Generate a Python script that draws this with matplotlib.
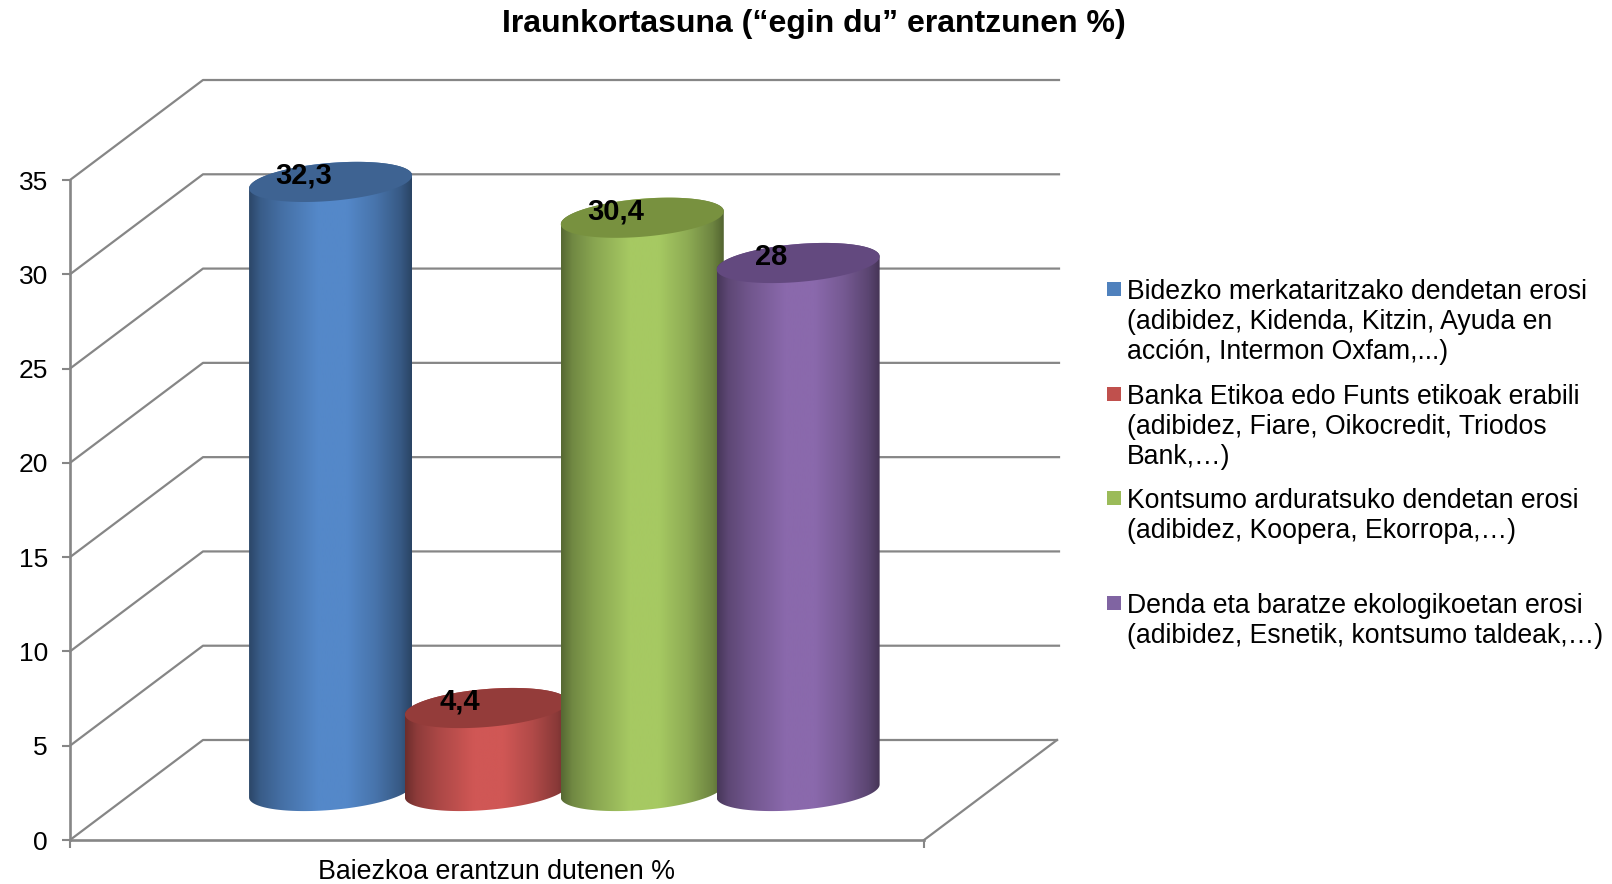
import numpy as np
import matplotlib
matplotlib.use('Agg')
import matplotlib.pyplot as plt
from matplotlib.colors import to_rgb
from matplotlib.patches import Polygon, Rectangle

plt.rcParams['font.family'] = ['Liberation Sans', 'DejaVu Sans']

title = 'Iraunkortasuna (“egin du” erantzunen %)'
xlabel = 'Baiezkoa erantzun dutenen %'
yticks = [0, 5, 10, 15, 20, 25, 30, 35]
values = [32.3, 4.4, 30.4, 28]
value_labels = ['32,3', '4,4', '30,4', '28']
light_colors = ['#5488C9', '#D05755', '#A6C962', '#8A69AC']
top_colors = ['#3E6392', '#943C3A', '#78913F', '#63497F']
legend_colors = ['#4F81BD', '#C0504D', '#9BBB59', '#8064A2']
legend_labels = [
    'Bidezko merkataritzako dendetan erosi\n(adibidez, Kidenda, Kitzin, Ayuda en\nacción, Intermon Oxfam,...)',
    'Banka Etikoa edo Funts etikoak erabili\n(adibidez, Fiare, Oikocredit, Triodos\nBank,…)',
    'Kontsumo arduratsuko dendetan erosi\n(adibidez, Koopera, Ekorropa,…)',
    'Denda eta baratze ekologikoetan erosi\n(adibidez, Esnetik, kontsumo taldeak,…)',
]
legend_y = [282, 387, 491, 596]  # top of each legend square, pixels

W, H = 1612, 884
PX_X = 854.0    # pixels per x unit
PX_Y = 18.857   # pixels per value unit
DX = 133 / PX_X  # depth of the box
DY = 100 / PX_Y
GRID = '#868686'

fig = plt.figure(figsize=(W / 100, H / 100), dpi=100)
ax = fig.add_axes([70 / W, (H - 840) / H, 989 / W, 760 / H])
ax.patch.set_visible(False)
xlim = (0, 989 / PX_X)
ylim = (0, 760 / PX_Y)

# box: back wall, side wall and floor
for v in yticks:
    ax.plot([0, DX, 1 + DX if v == 0 else 989 / PX_X], [v, v + DY, v + DY],
            color=GRID, lw=1.6, zorder=1, clip_on=False)
ax.plot([1, 1 + DX], [0, DY], color=GRID, lw=1.6, zorder=1)

# cylinders
t_low = np.linspace(np.pi, 2 * np.pi, 80)
t_up = np.linspace(0, np.pi, 80)
a = 81.5 / PX_X
b = 19.0 / PX_Y
s = 6.5 / PX_Y
stops = [0, 0.07, 0.2, 0.42, 0.6, 0.78, 0.93, 1]
shade = [0.52, 0.68, 0.82, 1.0, 1.0, 0.85, 0.66, 0.5]


def rim(cx, cy, t):
    return np.column_stack([cx + a * np.cos(t), cy + s * np.cos(t) + b * np.sin(t)])


for i, v in enumerate(values):
    cx = 0.501 + (i - 1.5) * 0.1825 + DX / 2
    base = DY / 2 - 1 / PX_Y
    top = base + v
    z = 3 + i
    body = np.vstack([rim(cx, base, t_low), rim(cx, top, t_up)])
    poly = Polygon(body, closed=True, transform=ax.transData, fc='none', ec='none')
    ax.add_patch(poly)
    pos = np.linspace(0, 1, 256)
    f = np.interp(pos, stops, shade)
    img = np.outer(f, to_rgb(light_colors[i]))[np.newaxis, :, :]
    im = ax.imshow(img, extent=(cx - a, cx + a, base - 2, top + 2), aspect='auto',
                   zorder=z, interpolation='bilinear')
    im.set_clip_path(poly)
    ax.add_patch(Polygon(rim(cx, top, np.linspace(0, 2 * np.pi, 160)), closed=True,
                         fc=top_colors[i], ec='none', zorder=z + 0.1))
    ax.annotate(value_labels[i], (cx, top), xytext=(-27 * 0.72, 6.5 * 0.72),
                textcoords='offset points', ha='center', va='center',
                fontsize=21, fontweight='bold', color='black', zorder=10)

ax.set_xlim(xlim)
ax.set_ylim(ylim)

for side in ['top', 'right']:
    ax.spines[side].set_visible(False)
ax.spines['left'].set_bounds(0, 35)
ax.spines['bottom'].set_bounds(0, 1)
for side in ['left', 'bottom']:
    ax.spines[side].set_color(GRID)
    ax.spines[side].set_linewidth(1.9)
ax.set_yticks(yticks)
ax.set_xticks([0, 1])
ax.set_xticklabels(['', ''])
ax.tick_params(axis='both', color=GRID, width=1.5, length=6, labelsize=19, labelcolor='black')
ax.tick_params(axis='y', pad=10)
ax.annotate(xlabel, (0.5, 0), xytext=(0, -32 * 0.72), textcoords='offset points',
            ha='center', va='center', fontsize=19.3, color='black')

fig.text(813.5 / W, 1 - 24 / H, title, ha='center', va='center', fontsize=23,
         fontweight='bold', color='black')

# legend
for color, label, y in zip(legend_colors, legend_labels, legend_y):
    fig.add_artist(Rectangle((1107 / W, 1 - (y + 14) / H), 14 / W, 14 / H,
                             transform=fig.transFigure, fc=color, ec='none'))
    fig.text(1127 / W, 1 - (y - 3) / H, label, ha='left', va='top', fontsize=19.2,
             color='black', linespacing=1.2)

fig.savefig('out.png', dpi=100)
